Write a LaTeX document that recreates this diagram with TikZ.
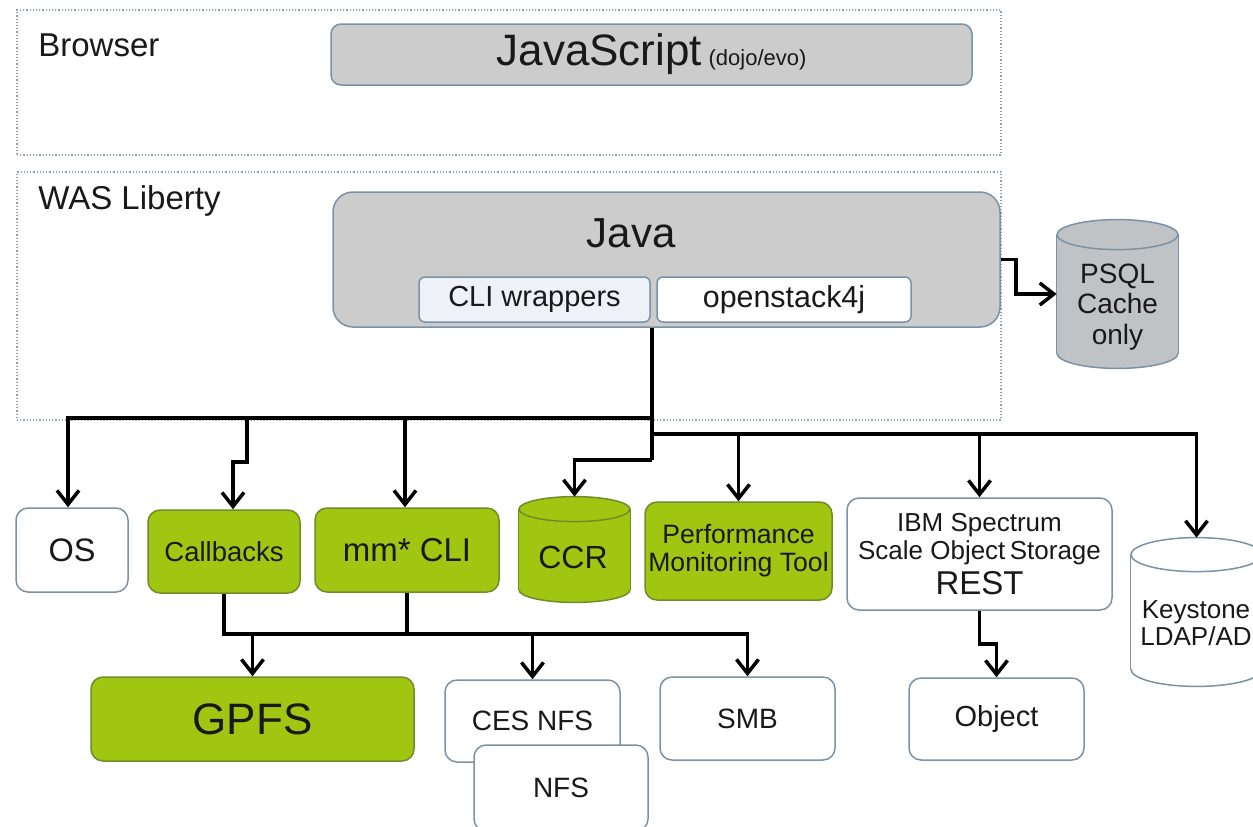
\documentclass[tikz,border=0pt]{standalone}
\usepackage{fontspec}
\setmainfont{Liberation Sans}
\usetikzlibrary{arrows.meta,calc}
\definecolor{bordc}{RGB}{122,146,166}
\definecolor{contc}{RGB}{140,160,180}
\definecolor{grn}{RGB}{160,198,18}
\definecolor{grnb}{RGB}{112,140,40}
\definecolor{boxgray}{RGB}{204,204,204}
\definecolor{cylgray}{RGB}{192,195,198}
\definecolor{clifill}{RGB}{238,242,248}
\definecolor{txt}{RGB}{25,25,25}
\newcommand\fsz[1]{\fontsize{#1}{1.2\dimexpr#1pt\relax}\selectfont}
\newcommand\cylshape[5]{%
 \fill[#4,draw=#5,line width=0.75pt] ([yshift=#3pt]#1.south) ellipse[x radius=#2pt,y radius=#3pt];
 \fill[#4] ([yshift=-#3pt]#1.north west) rectangle ([yshift=#3pt]#1.south east);
 \draw[#5,line width=0.75pt] ([yshift=-#3pt]#1.north west) -- ([yshift=#3pt]#1.south west)
   ([yshift=-#3pt]#1.north east) -- ([yshift=#3pt]#1.south east);
 \fill[#4,draw=#5,line width=0.75pt] ([yshift=-#3pt]#1.north) ellipse[x radius=#2pt,y radius=#3pt];
}
\tikzset{
 box/.style={draw=bordc,line width=0.75pt,rounded corners=6pt,fill=white,text=txt,inner sep=0pt,align=center},
 gbox/.style={box,fill=grn,draw=grnb},
 cont/.style={draw=contc,densely dotted,line width=0.6pt,inner sep=0pt},
 anch/.style={draw=none,fill=none,inner sep=0pt},
 lbl/.style={text=txt,inner sep=0pt,align=center},
 conn/.style={draw=black,line width=1.75pt},
 arr/.style={conn,-{Straight Barb[length=7pt,width=11pt]}},
}
\begin{document}
\begin{tikzpicture}[x=0.5pt,y=-0.5pt]
\useasboundingbox (0,0) rectangle (1253,826);
\fill[white] (0,0) rectangle (1253,826);
\clip (0,0) rectangle (1253,826);
% containers
\node[cont,minimum width=492pt,minimum height=72.5pt] (browser) at (509,82.5) {};
\node[lbl,anchor=west,font=\fsz{16.5}] (browserl) at (38,45) {Browser};
\node[cont,minimum width=492pt,minimum height=124pt] (was) at (509,296) {};
\node[lbl,anchor=west,font=\fsz{16.5}] (wasl) at (38,201) {WAS Liberty};
% browser
\node[box,fill=boxgray,rounded corners=5pt,minimum width=320.5pt,minimum height=30.5pt] (js) at (651.5,54.5)
 {{\fsz{22}JavaScript}\,\,{\fsz{11}(dojo/evo)}};
% java
\node[box,fill=boxgray,rounded corners=10pt,minimum width=333.5pt,minimum height=67.5pt] (java) at (666.5,259.5) {};
\node[lbl,font=\fsz{21}] (javal) at (631,233) {Java};
\node[box,fill=clifill,rounded corners=3pt,minimum width=115.5pt,minimum height=22.5pt,font=\fsz{14.5}] (cli) at (534.5,299.5) {CLI wrappers};
\node[box,rounded corners=3pt,minimum width=127pt,minimum height=22.5pt,font=\fsz{15.2}] (os4j) at (784,299.5) {openstack4j};
% PSQL
\node[anch,minimum width=60.5pt,minimum height=74pt] (psql) at (1117.5,294) {};
\cylshape{psql}{30.25}{7.5}{cylgray}{bordc}
\node[lbl,font=\fsz{14}] (psqlt) at (1117.5,307) {PSQL\\[-1.5pt]Cache\\[-1.5pt]only};
% row 1
\node[box,minimum width=56pt,minimum height=42pt,font=\fsz{16.25}] (os) at (72,550) {OS};
\node[gbox,minimum width=76pt,minimum height=41.5pt,font=\fsz{13.75}] (cb) at (224,551.5) {Callbacks};
\node[gbox,minimum width=92pt,minimum height=42pt,font=\fsz{16.5}] (mm) at (407,550) {mm* CLI};
\node[anch,minimum width=55.5pt,minimum height=52.5pt] (ccr) at (574.5,549.5) {};
\cylshape{ccr}{27.75}{6.25}{grn}{grnb}
\node[lbl,font=\fsz{16}] (ccrt) at (573,557) {CCR};
\node[gbox,minimum width=93.5pt,minimum height=49pt,font=\fsz{13.3}] (perf) at (738.5,551) {Performance\\[-2pt]Monitoring Tool};
\node[box,minimum width=132.5pt,minimum height=56pt,font={\fontsize{13}{14}\selectfont}] (ibm) at (979.5,554)
 {IBM Spectrum\\Scale Object\,Storage\\[2.5pt]\fontsize{16.5}{14}\selectfont REST};
\node[anch,minimum width=65.5pt,minimum height=74pt] (key) at (1196.5,612) {};
\cylshape{key}{32.75}{8.5}{white}{bordc}
\node[lbl,font=\fsz{13}] (keyt) at (1196,623) {Keystone\\[-2pt]LDAP/AD};
% row 2
\node[gbox,minimum width=161.5pt,minimum height=42pt,font=\fsz{22}] (gpfs) at (252.5,719) {GPFS};
\node[box,minimum width=87.5pt,minimum height=41pt,font=\fsz{14}] (ces) at (532.5,721) {CES NFS};
\node[box,minimum width=87pt,minimum height=43pt,font=\fsz{14}] (nfs) at (561,788) {NFS};
\node[box,minimum width=87.5pt,minimum height=41.5pt,font=\fsz{14}] (smb) at (747.5,718.5) {SMB};
\node[box,minimum width=87.5pt,minimum height=41pt,font=\fsz{14.5}] (obj) at (996.5,719) {Object};
% junctions
\coordinate (j1) at (652,418);
\coordinate (j2) at (652,434);
\coordinate (j3) at (652,460);
\coordinate (cbk) at (247,462);
\coordinate (lb) at (224,634);
% connectors
\draw[arr] (java.east) -- ++(15,0) |- (psql.west);
\draw[conn] (java.south -| j1) -- (j3);
\draw[arr] (j1) -| ([xshift=-2pt]os.north);
\draw[arr] (j1) -| (cbk) -| ([xshift=4.5pt]cb.north);
\draw[arr] (j1) -| ([xshift=-1pt]mm.north);
\draw[arr] (j3) -| (ccr.north);
\draw[arr] (j2) -| (perf.north);
\draw[arr] (j2) -| (ibm.north);
\draw[arr] (j2) -| (key.north);
\draw[arr] (cb.south) |- (lb) -| (smb.north);
\draw[conn] (mm.south) -- (mm.south |- lb);
\draw[arr] (gpfs.north |- lb) -- (gpfs.north);
\draw[arr] (ces.north |- lb) -- (ces.north);
\draw[arr] (ibm.south) -- ++(0,33) -| (obj.north);
\end{tikzpicture}
\end{document}
